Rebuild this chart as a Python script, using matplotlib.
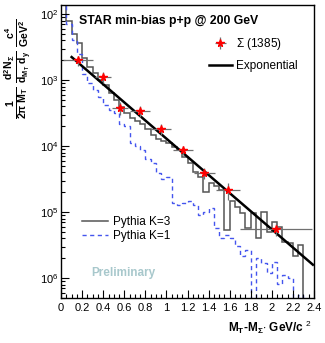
import numpy as np
import matplotlib
matplotlib.use("Agg")
import matplotlib.pyplot as plt
from matplotlib.lines import Line2D
from matplotlib.ticker import FixedLocator, FixedFormatter, MultipleLocator, LogLocator, NullFormatter

plt.rcParams['font.family'] = ['Liberation Sans', 'DejaVu Sans']
plt.rcParams['mathtext.fontset'] = 'custom'
plt.rcParams['mathtext.rm'] = 'Liberation Sans'
plt.rcParams['mathtext.it'] = 'Liberation Sans'
plt.rcParams['mathtext.bf'] = 'Liberation Sans:bold'

# Sigma(1385) data points
sig_x = [0.16, 0.40, 0.56, 0.75, 0.945, 1.155, 1.36, 1.585, 2.04]
sig_xerr = [0.14, 0.075, 0.075, 0.095, 0.095, 0.095, 0.10, 0.115, 0.34]
sig_y = [2.0e-3, 1.12e-3, 3.8e-4, 3.4e-4, 1.82e-4, 8.7e-5, 3.9e-5, 2.14e-5, 5.6e-6]
sig_yerr = [3.6e-4, 2.0e-4, 8.0e-5, 6.0e-5, 3.2e-5, 1.4e-5, 7.0e-6, 6.0e-6, 1.3e-6]

# exponential fit (end points)
fit_x = [0.10, 2.39]
fit_y = [2.24e-3, 1.6e-6]

# Pythia histograms, 0.05 GeV bins from 0 to 2.4
bin_edges = np.linspace(0, 2.4, 49)
pythia_k3 = [1.5e-2, 8.0e-3, 5.0e-3, 3.6e-3, 2.2e-3, 1.6e-3, 1.3e-3, 1.0e-3,
             8.5e-4, 6.5e-4, 5.0e-4, 3.9e-4, 3.2e-4, 2.7e-4, 2.4e-4, 2.2e-4,
             1.8e-4, 1.5e-4, 1.3e-4, 1.2e-4, 1.1e-4, 9.7e-5, 8.7e-5, 6.8e-5,
             5.5e-5, 4.0e-5, 3.4e-5, 2.0e-5, 2.8e-5, 2.5e-5, 2.2e-5, 5.3e-6,
             1.5e-5, 1.2e-5, 9.6e-6, 5.7e-6, 9.6e-6, 4.0e-6, 1.0e-5, 5.0e-6,
             7.0e-6, 6.0e-6, 3.5e-6, 3.4e-6, 2.2e-6, 3.2e-6, 0, 0]
pythia_k1 = [1.5e-2, 7.0e-3, 4.0e-3, 2.5e-3, 1.25e-3, 9.0e-4, 7.0e-4, 5.5e-4,
             4.2e-4, 3.5e-4, 3.2e-4, 2.2e-4, 2.0e-4, 1.1e-4, 1.0e-4, 8.7e-5,
             6.3e-5, 5.6e-5, 3.9e-5, 3.2e-5, 3.4e-5, 1.4e-5, 1.3e-5, 1.4e-5,
             1.5e-5, 1.3e-5, 9.0e-6, 1.0e-5, 1.15e-5, 5.7e-6, 4.0e-6, 4.5e-6,
             4.0e-6, 3.1e-6, 2.2e-6, 2.7e-6, 0, 2.0e-6, 1.7e-6, 1.2e-6,
             1.75e-6, 8.3e-7, 1.1e-6, 1.0e-6, 0, 5.5e-7, 0, 0]

ytick_vals = [1e-6, 1e-5, 1e-4, 1e-3, 1e-2]
ytick_labels = ['$10^{6}$', '$10^{5}$', '$10^{4}$', '$10^{3}$', '$10^{2}$']
xtick_vals = [0, 0.2, 0.4, 0.6, 0.8, 1, 1.2, 1.4, 1.6, 1.8, 2, 2.2, 2.4]
xtick_labels = ['0', '0.2', '0.4', '0.6', '0.8', '1', '1.2', '1.4', '1.6', '1.8', '2', '2.2', '2.4']

fig = plt.figure(figsize=(3.25, 3.43), dpi=100)
ax = fig.add_axes([0.188, 0.131, 0.778, 0.854])

ax.stairs(pythia_k3, bin_edges, color='#555555', lw=1.1, baseline=None)
ax.stairs(pythia_k1, bin_edges, color='#4455ee', lw=1.0, ls=(0, (3, 2.5)), baseline=None)

fit_line, = ax.plot(fit_x, fit_y, color='black', lw=1.8, zorder=4)
eb = ax.errorbar(sig_x, sig_y, xerr=sig_xerr, yerr=sig_yerr, fmt='*', color='red',
                 ms=5.5, ecolor='#707070', elinewidth=0.9, capsize=0, zorder=5)

ax.set_yscale('log')
ax.set_xlim(0, 2.4)
ax.set_ylim(5.0e-7, 1.37e-2)

ax.yaxis.set_major_locator(FixedLocator(ytick_vals))
ax.yaxis.set_major_formatter(FixedFormatter(ytick_labels))
ax.yaxis.set_minor_locator(LogLocator(base=10, subs=np.arange(2, 10)))
ax.yaxis.set_minor_formatter(NullFormatter())
ax.xaxis.set_major_locator(FixedLocator(xtick_vals))
ax.xaxis.set_major_formatter(FixedFormatter(xtick_labels))
ax.xaxis.set_minor_locator(MultipleLocator(0.05))
ax.tick_params(which='both', direction='in', top=False, right=False, labelsize=8)
ax.tick_params(axis='y', pad=2)
ax.tick_params(which='major', length=6, width=0.8)
ax.tick_params(which='minor', length=3, width=0.8)
for sp in ax.spines.values():
    sp.set_linewidth(1.0)

ax.text(0.07, 0.965, 'STAR min-bias p+p @ 200 GeV', transform=ax.transAxes,
        fontsize=8.8, fontweight='bold', va='top', ha='left')

leg1 = ax.legend([eb, fit_line], [r'$\Sigma$ (1385)', 'Exponential'], loc='upper left',
                 bbox_to_anchor=(0.56, 0.915), frameon=False, fontsize=8.5,
                 handlelength=2.0, handletextpad=0.3, borderpad=0, labelspacing=0.7)
ax.add_artist(leg1)
h3 = Line2D([], [], color='#555555', lw=1.1)
h1 = Line2D([], [], color='#4455ee', lw=1.0, ls=(0, (3, 2.5)))
ax.legend([h3, h1], ['Pythia K=3', 'Pythia K=1'], loc='upper left',
          bbox_to_anchor=(0.06, 0.30), frameon=False, fontsize=8.5,
          handlelength=2.2, handletextpad=0.4, borderpad=0, labelspacing=0.15)

ax.text(0.29, 1.2e-6, 'Preliminary', color='#a8c8cc', fontsize=8.5, fontweight='bold',
        ha='left', va='center')

fig.text(0.96, 0.045, r'$\mathbf{M_T}$-$\mathbf{M_{\Sigma}}$$\cdot$ GeV/c $^{2}$',
         fontsize=8.5, fontweight='bold', ha='right', va='center')
fig.text(0.058, 0.80,
         r'$\mathbf{\frac{1}{2\pi\ M_T}\ \frac{d^2N_{\Sigma}}{d_{M_T}\ d_y}\ \frac{c^4}{GeV^2}}$',
         fontsize=10.8, rotation=90, ha='center', va='center')

fig.savefig('out.png', dpi=100)
